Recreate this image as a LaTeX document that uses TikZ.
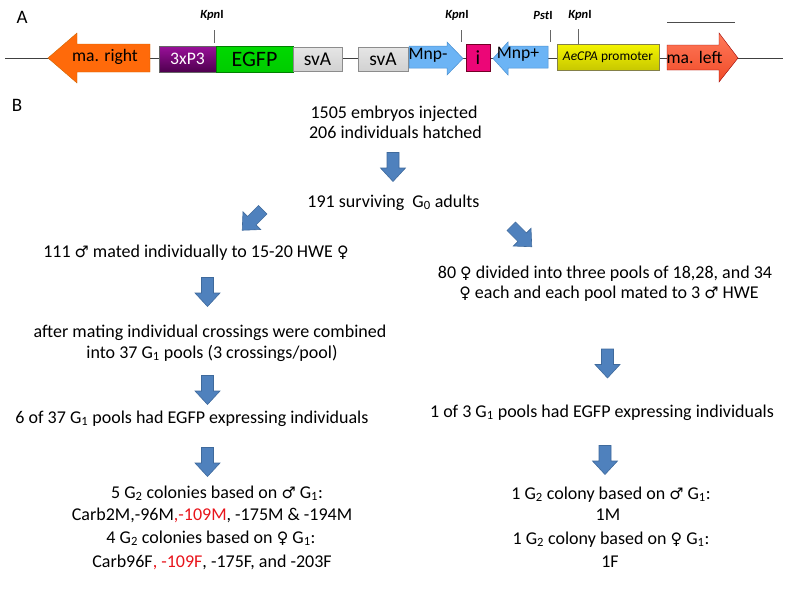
\documentclass[tikz,border=0pt]{standalone}
\usepackage{fontspec}
\setmainfont{Carlito}
\newfontfamily\symfont{DejaVu Sans}[Scale=0.88]
\newcommand{\msym}{{\symfont\char"2642}}
\newcommand{\fsym}{{\symfont\char"2640}}
\definecolor{arrowblue}{HTML}{4F81BD}
\definecolor{arrowedge}{HTML}{3F6A9C}
\definecolor{redtxt}{HTML}{E8141B}
\definecolor{mnpblue}{HTML}{6CB4F5}
\definecolor{mnpedge}{HTML}{4A90D0}
\definecolor{purtop}{HTML}{9A109A}
\definecolor{purmid}{HTML}{7A007A}
\definecolor{purbot}{HTML}{4E004E}
\definecolor{yeltop}{HTML}{F4F400}
\definecolor{yelmid}{HTML}{FFFF10}
\definecolor{yelbot}{HTML}{C8C800}
\definecolor{maltop}{HTML}{FF7A5A}
\definecolor{malmid}{HTML}{FF6040}
\definecolor{malbot}{HTML}{F04A28}
\definecolor{marorange}{HTML}{FF6A0A}
\tikzset{
  txt/.style={font=\fontsize{18}{21}\selectfont, inner sep=0pt, anchor=base},
  gbox/.style={draw=#1, line width=0.5pt, inner sep=0pt},
  enz/.style={font=\fontsize{12.5}{14}\selectfont\bfseries, inner sep=0pt},
  tick/.style={draw=gray!80!black, line width=0.6pt},
}
\newcommand{\barrow}[4]{%
  \coordinate (#1) at (#2,#3);
  \begin{scope}[shift={(#1)}, rotate=#4]
    \fill[arrowblue, draw=arrowedge, line width=0.6pt]
      (-14.5,-6) -- (1,-6) -- (1,-12.5) -- (14.5,0) -- (1,12.5) -- (1,6) -- (-14.5,6) -- cycle;
  \end{scope}}
\begin{document}
\begin{tikzpicture}[x=1pt,y=-1pt]
\useasboundingbox (0,0) rectangle (788,592);
% ---------------- Part A ----------------
\node[font=\fontsize{19}{22}\selectfont, inner sep=0pt] (labA) at (22,17) {A};
\draw[line width=0.8pt, black!75] (5,58) -- (783,58);
% ma. right
\fill[marorange, draw=orange!80!black, line width=0.4pt]
  (48,58) -- (77,33) -- (77,44) -- (150,44) -- (150,72) -- (77,72) -- (77,83) -- cycle;
\node[font=\fontsize{17.6}{20}\selectfont, inner sep=0pt] (mar) at (105,57) {ma. right};
% boxes
\node[gbox=black!60, top color=purtop, middle color=purmid, bottom color=purbot,
      minimum width=57pt, minimum height=26pt, text=white, font=\fontsize{17.6}{20}\selectfont] (p3) at (187.5,59) {3xP3};
\node[gbox=green!50!black, top color=green!85!black, middle color=green!90!white, bottom color=green!80!black,
      minimum width=77pt, minimum height=26pt, font=\fontsize{22}{24}\selectfont] (egfp) at (254.5,59) {EGFP};
\node[gbox=black!45, top color=black!10, middle color=black!32, bottom color=black!18,
      minimum width=49pt, minimum height=24pt, font=\fontsize{19.5}{22}\selectfont] (sva1) at (317.5,59) {svA};
\node[gbox=black!45, top color=black!10, middle color=black!32, bottom color=black!18,
      minimum width=50pt, minimum height=24pt, font=\fontsize{19.5}{22}\selectfont] (sva2) at (383,59) {svA};
% Mnp- arrow
\fill[mnpblue, draw=mnpedge, line width=0.5pt]
  (409,46) -- (447,46) -- (447,42) -- (463,58.5) -- (447,75) -- (447,68) -- (409,68) -- cycle;
\node[font=\fontsize{17.6}{20}\selectfont, inner sep=0pt] (mnpm) at (428,55) {Mnp-};
% i box
\node[gbox=purple!60!black, fill=magenta!80!red, minimum width=24pt, minimum height=27pt,
      font=\fontsize{20}{22}\selectfont] (ibox) at (478,57.5) {i};
% Mnp+ arrow
\fill[mnpblue, draw=mnpedge, line width=0.5pt]
  (548,46) -- (508,46) -- (508,42) -- (493,58.5) -- (508,75) -- (508,68) -- (548,68) -- cycle;
\node[font=\fontsize{17.6}{20}\selectfont, inner sep=0pt] (mnpp) at (518,54) {Mnp+};
% AeCPA promoter
\node[gbox=yellow!45!black, top color=yeltop, middle color=yelmid, bottom color=yelbot,
      minimum width=102pt, minimum height=26pt, font=\fontsize{13.4}{16}\selectfont] (aecpa) at (608,57) {\textit{AeCPA} promoter};
% ma. left
\shade[top color=maltop, middle color=malmid, bottom color=malbot, draw=red!60!black, line width=0.4pt]
  (667,45) -- (719,45) -- (719,33) -- (738,58) -- (719,82) -- (719,70) -- (667,70) -- cycle;
\node[font=\fontsize{17.6}{20}\selectfont, inner sep=0pt] (mal) at (694.5,57) {ma. left};
% enzyme sites
\node[enz] (k1) at (212,15) {\textit{Kpn}I};
\coordinate (k1a) at (214,30); \coordinate (k1b) at (214,43);
\draw[tick] (k1a) -- (k1b);
\node[enz] (k2) at (457,15) {\textit{Kpn}I};
\coordinate (k2a) at (461,30); \coordinate (k2b) at (461,42);
\draw[tick] (k2a) -- (k2b);
\node[enz] (ps) at (543,15) {\textit{Pst}I};
\coordinate (psa) at (550,30); \coordinate (psb) at (550,42);
\draw[tick] (psa) -- (psb);
\node[enz] (k3) at (580,15) {\textit{Kpn}I};
\coordinate (k3a) at (578,29); \coordinate (k3b) at (578,44);
\draw[tick] (k3a) -- (k3b);
% scale bar
\coordinate (sb1) at (667,22); \coordinate (sb2) at (735,22);
\draw[line width=0.7pt, black!70] (sb1) -- (sb2);
% ---------------- Part B ----------------
\node[font=\fontsize{19}{22}\selectfont, inner sep=0pt] (labB) at (17,105) {B};
\node[txt] (t1a) at (394,118) {1505 embryos injected};
\node[txt] (t1b) at (395.5,138) {206 individuals hatched};
\barrow{a1}{393}{167}{-90}
\node[txt] (t2) at (393.5,207) {191 surviving \ G\textsubscript{0} adults};
\barrow{a2}{252.5}{220}{-135}
\barrow{a3}{521.5}{236.5}{-45}
% left column
\node[txt] (l1) at (196,257) {111 \msym{} mated individually to 15-20 HWE \fsym};
\barrow{a4}{207.5}{292}{-90}
\node[txt] (l2a) at (210,337) {after mating individual crossings were combined};
\node[txt] (l2b) at (212,358) {into 37 G\textsubscript{1} pools (3 crossings/pool)};
\barrow{a5}{207.5}{390}{-90}
\node[txt] (l3) at (192,423) {6 of 37 G\textsubscript{1} pools had EGFP expressing individuals};
\barrow{a6}{207.5}{462}{-90}
\node[txt] (l4a) at (217,498) {5 G\textsubscript{2} colonies based on \msym{} G\textsubscript{1}:};
\node[txt] (l4b) at (212,520) {Carb2M,-96M\textcolor{redtxt}{,-109M}, -175M \& -194M};
\node[txt] (l5a) at (211,543) {4 G\textsubscript{2} colonies based on \fsym{} G\textsubscript{1}:};
\node[txt] (l5b) at (212,567) {Carb96F\textcolor{redtxt}{, -109F}, -175F, and -203F};
% right column
\node[txt] (r1a) at (605,278) {80 \fsym{} divided into three pools of 18,28, and 34};
\node[txt] (r1b) at (609,298) {\fsym{} each and each pool mated to 3 \msym{} HWE};
\barrow{a7}{607.5}{363.5}{-90}
\node[txt] (r2) at (602,417) {1 of 3 G\textsubscript{1} pools had EGFP expressing individuals};
\barrow{a8}{605}{460}{-90}
\node[txt] (r3a) at (611,499) {1 G\textsubscript{2} colony based on \msym{} G\textsubscript{1}:};
\node[txt] (r3b) at (608,520) {1M};
\node[txt] (r4a) at (611,544) {1 G\textsubscript{2} colony based on \fsym{} G\textsubscript{1}:};
\node[txt] (r4b) at (610,567) {1F};
\end{tikzpicture}
\end{document}
